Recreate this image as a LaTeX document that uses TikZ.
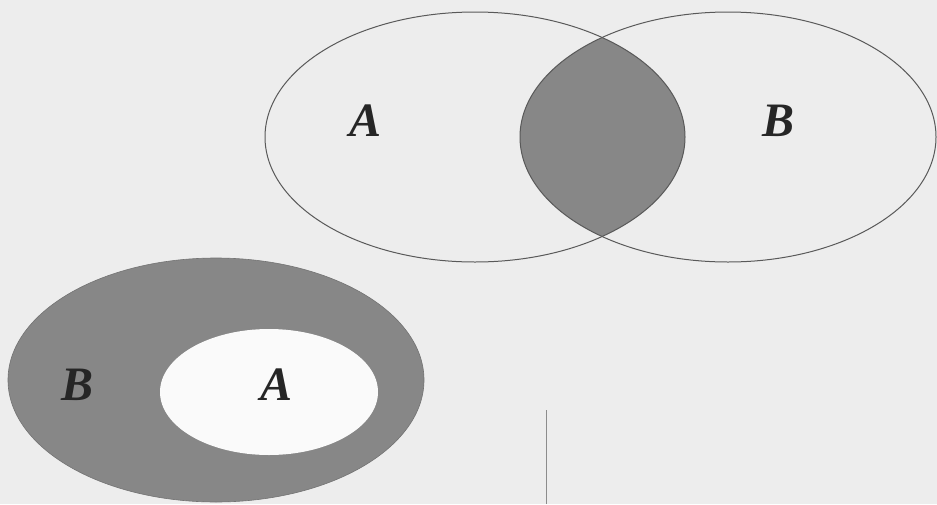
\documentclass[tikz,border=0pt]{standalone}
\usepackage{fontspec}
\setmainfont{Liberation Serif}
\begin{document}
\begin{tikzpicture}[x=1pt,y=-1pt,
  outline/.style={draw=black!65,line width=1pt},
  shade/.style={fill=black!47},
  setlabel/.style={font=\fontsize{48}{48}\selectfont\bfseries\itshape,text=black!85,inner sep=0pt}]
\useasboundingbox[fill=black!7] (0,0) rectangle (937,504);
% top: intersection
\begin{scope}
  \clip (475,137) ellipse [x radius=210,y radius=125];
  \fill[shade] (728,137) ellipse [x radius=208,y radius=125];
\end{scope}
\draw[outline] (475,137) ellipse [x radius=210,y radius=125];
\draw[outline] (728,137) ellipse [x radius=208,y radius=125];
\node[setlabel] (la) at (366,121) {A};
\node[setlabel] (lb) at (778,121) {B};
% bottom: A subset of B
\fill[shade,draw=black!55,line width=0.6pt] (216,380) ellipse [x radius=208,y radius=122];
\fill[black!2] (269,392) ellipse [x radius=109,y radius=63];
\node[setlabel] (lb2) at (78,385) {B};
\node[setlabel] (la2) at (277,385) {A};
% scan line
\draw[black!45,line width=1pt] (546,410) -- (546,504);
\end{tikzpicture}
\end{document}
